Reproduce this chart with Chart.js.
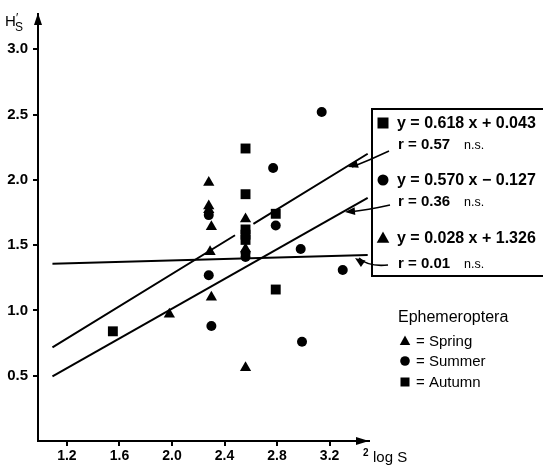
<!DOCTYPE html>
<html>
<head>
<meta charset="utf-8">
<script src="https://cdn.jsdelivr.net/npm/chart.js@4.4.0/dist/chart.umd.min.js"></script>
<style>
html,body{margin:0;padding:0;background:#fff;}
#wrap{width:543px;height:468px;position:relative;}
</style>
</head>
<body>
<div id="wrap"><canvas id="c"></canvas></div>
<script>
// ---- data ----
const springX = [2.28, 2.28, 2.28, 2.30, 2.29, 1.98, 2.30, 2.56, 2.56, 2.56];
const springY = [1.98, 1.80, 1.77, 1.64, 1.45, 0.97, 1.10, 0.56, 1.70, 1.47];
const summerX = [2.28, 2.28, 2.30, 2.56, 2.56, 2.77, 2.79, 2.98, 3.14, 3.30, 2.99];
const summerY = [1.73, 1.27, 0.88, 1.44, 1.41, 2.09, 1.65, 1.47, 2.52, 1.31, 0.76];
const autumnX = [2.56, 2.56, 2.56, 2.56, 2.56, 2.79, 2.79, 1.55];
const autumnY = [2.24, 1.89, 1.62, 1.58, 1.54, 1.74, 1.16, 0.84];
// regression lines: [slope, intercept]
const autumnFit = [0.618, 0.043];
const summerFit = [0.570, -0.127];
const springFit = [0.028, 1.326];
const fitRange = [1.09, 3.49];
const xTicks = [1.2, 1.6, 2.0, 2.4, 2.8, 3.2];
const yTicks = [0.5, 1.0, 1.5, 2.0, 2.5, 3.0];
const eqLabels = ['y = 0.618 x + 0.043', 'y = 0.570 x \u2212 0.127', 'y = 0.028 x + 1.326'];
const rLabels = ['r = 0.57', 'r = 0.36', 'r = 0.01'];
const seasonLabels = ['= Spring', '= Summer', '= Autumn'];

const pts = (xs, ys) => xs.map((x, i) => ({x, y: ys[i]}));
const fitLine = (f, gap) => {
  const p = x => ({x, y: f[0] * x + f[1]});
  if (!gap) return [p(fitRange[0]), p(fitRange[1])];
  return [p(fitRange[0]), p(gap[0]), {x: (gap[0] + gap[1]) / 2, y: null}, p(gap[1]), p(fitRange[1])];
};

const FONT = '"Liberation Sans", Arial, sans-serif';

const lineDs = (data) => ({
  type: 'line', data, showLine: true, spanGaps: false, borderColor: '#000', borderWidth: 2,
  pointRadius: 0, fill: false, tension: 0, order: 2
});

function drawSymbol(ctx, kind, x, y, r) {
  ctx.fillStyle = '#000';
  ctx.beginPath();
  if (kind === 'circle') { ctx.arc(x, y, r, 0, Math.PI * 2); }
  else if (kind === 'rect') { ctx.rect(x - r, y - r, 2 * r, 2 * r); }
  else { ctx.moveTo(x, y - r * 1.1); ctx.lineTo(x + r * 1.05, y + r * 0.8); ctx.lineTo(x - r * 1.05, y + r * 0.8); ctx.closePath(); }
  ctx.fill();
}

function arrowHead(ctx, x, y, ang, len, w) {
  ctx.beginPath();
  ctx.moveTo(x, y);
  ctx.lineTo(x - len * Math.cos(ang) + w * Math.sin(ang), y - len * Math.sin(ang) - w * Math.cos(ang));
  ctx.lineTo(x - len * Math.cos(ang) - w * Math.sin(ang), y - len * Math.sin(ang) + w * Math.cos(ang));
  ctx.closePath();
  ctx.fill();
}

const annot = {
  id: 'annot',
  afterDraw(chart) {
    const ctx = chart.ctx;
    const xs = chart.scales.x, ys = chart.scales.y;
    const L = chart.chartArea.left, B = chart.chartArea.bottom;
    ctx.save();
    ctx.fillStyle = '#000'; ctx.strokeStyle = '#000';
    // axis arrows
    arrowHead(ctx, L, ys.getPixelForValue(3.27) - 1, -Math.PI / 2, 12, 4);
    ctx.lineWidth = 2;
    ctx.beginPath(); ctx.moveTo(L, B); ctx.lineTo(xs.getPixelForValue(3.42), B); ctx.stroke();
    arrowHead(ctx, xs.getPixelForValue(3.5), B, 0, 13, 4);

    // axis titles
    ctx.textBaseline = 'alphabetic'; ctx.textAlign = 'left';
    ctx.font = '15px ' + FONT;
    ctx.fillText('H', 5, 26);
    ctx.font = '12px ' + FONT;
    ctx.fillText('\u2032', 16, 22);
    ctx.fillText('S', 15, 31);
    ctx.font = 'bold 10px ' + FONT;
    ctx.fillText('2', 363, 456);
    ctx.font = '15px ' + FONT;
    ctx.fillText('log S', 373, 462);

    // equation box
    ctx.lineWidth = 2;
    ctx.beginPath();
    ctx.moveTo(560, 109); ctx.lineTo(372, 109); ctx.lineTo(372, 276); ctx.lineTo(560, 276);
    ctx.stroke();
    const kinds = ['rect', 'circle', 'triangle'];
    const eqY = [128, 185, 243];
    const rY = [149, 206, 268];
    for (let i = 0; i < 3; i++) {
      drawSymbol(ctx, kinds[i], 383, eqY[i] - 5, kinds[i] === 'triangle' ? 6 : 5.5);
      ctx.font = 'bold 16px ' + FONT;
      ctx.fillText(eqLabels[i], 397, eqY[i]);
      ctx.font = 'bold 15px ' + FONT;
      ctx.fillText(rLabels[i], 398, rY[i]);
      ctx.font = '12.5px ' + FONT;
      ctx.fillText('n.s.', 464, rY[i]);
    }
    // pointer arrows
    ctx.lineWidth = 1.6;
    const arrows = [
      {s: [389, 151], c: [370, 160], e: [348, 167]},
      {s: [390, 205], c: [368, 210], e: [345, 212]},
      {s: [388, 265], c: [368, 267], e: [355, 258]}
    ];
    arrows.forEach(a => {
      ctx.beginPath(); ctx.moveTo(a.s[0], a.s[1]);
      ctx.quadraticCurveTo(a.c[0], a.c[1], a.e[0] + 4, a.e[1]);
      ctx.stroke();
      const ang = Math.atan2(a.e[1] - a.c[1], a.e[0] - a.c[0]);
      arrowHead(ctx, a.e[0], a.e[1], ang, 10, 4);
    });

    // season legend
    ctx.font = '16px ' + FONT;
    ctx.fillText('Ephemeroptera', 398, 322);
    ctx.font = '15px ' + FONT;
    const sy = [341, 361, 382];
    const sk = ['triangle', 'circle', 'rect'];
    for (let i = 0; i < 3; i++) {
      drawSymbol(ctx, sk[i], 405, sy[i], sk[i] === 'triangle' ? 5 : (sk[i] === 'rect' ? 4.5 : 4.8));
      ctx.fillText(seasonLabels[i], 416, sy[i] + 5);
    }
    ctx.restore();
  }
};

new Chart(document.getElementById('c'), {
  type: 'scatter',
  data: {
    datasets: [
      lineDs(fitLine(autumnFit, [2.48, 2.62])),
      lineDs(fitLine(summerFit)),
      lineDs(fitLine(springFit)),
      {label: 'Spring', data: pts(springX, springY), pointStyle: 'triangle', pointRadius: 6.5,
       backgroundColor: '#000', borderColor: '#000', borderWidth: 0, order: 1},
      {label: 'Summer', data: pts(summerX, summerY), pointStyle: 'circle', pointRadius: 5,
       backgroundColor: '#000', borderColor: '#000', borderWidth: 0, order: 1},
      {label: 'Autumn', data: pts(autumnX, autumnY), pointStyle: 'rect', pointRadius: 7,
       backgroundColor: '#000', borderColor: '#000', borderWidth: 0, order: 1}
    ]
  },
  options: {
    responsive: true, maintainAspectRatio: false, animation: false,
    layout: {padding: {left: 0, top: 11, right: 174, bottom: 0}},
    plugins: {legend: {display: false}, tooltip: {enabled: false}},
    scales: {
      x: {
        type: 'linear', min: 0.98, max: 3.5,
        afterBuildTicks: s => { s.ticks = xTicks.map(v => ({value: v})); },
        afterFit: s => { s.height = 27; },
        ticks: {color: '#000', font: {family: FONT, size: 14, weight: 'bold'}, padding: 2,
                callback: v => v.toFixed(1), autoSkip: false, maxRotation: 0},
        grid: {drawOnChartArea: false, drawTicks: true, tickLength: 5, color: '#000', lineWidth: 2},
        border: {display: true, color: '#000', width: 2}
      },
      y: {
        type: 'linear', min: 0, max: 3.27,
        afterBuildTicks: s => { s.ticks = yTicks.map(v => ({value: v})); },
        afterFit: s => { s.width = 38; },
        ticks: {color: '#000', font: {family: FONT, size: 15, weight: 'bold'}, padding: 5,
                callback: v => v.toFixed(1), autoSkip: false},
        grid: {drawOnChartArea: false, drawTicks: true, tickLength: 5, color: '#000', lineWidth: 2},
        border: {display: true, color: '#000', width: 2}
      }
    }
  },
  plugins: [annot]
});
</script>
</body>
</html>
